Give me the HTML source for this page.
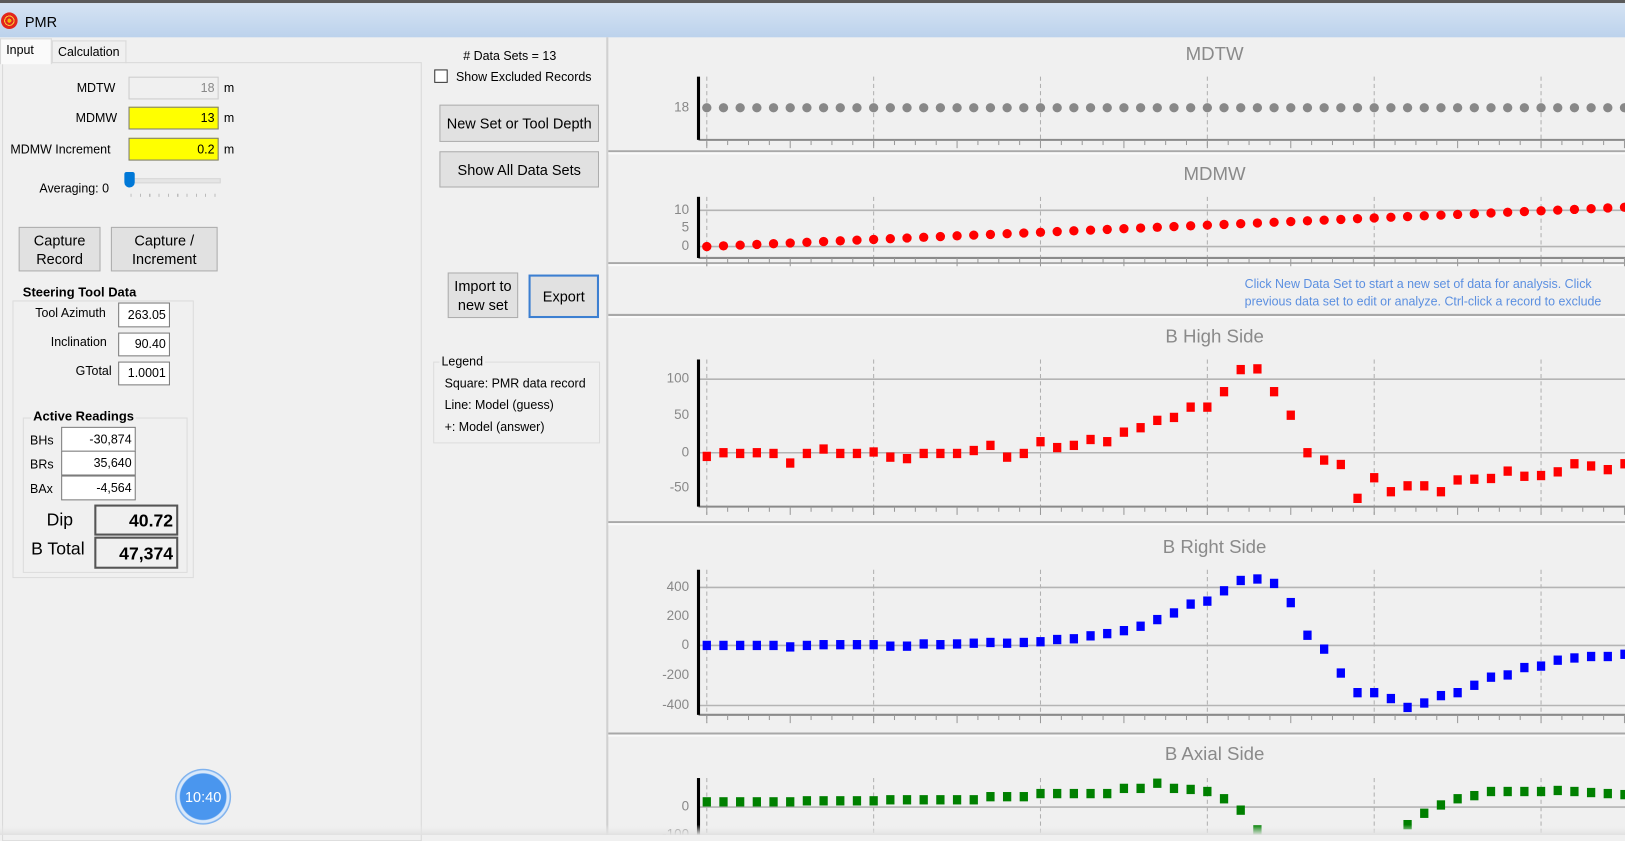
<!DOCTYPE html>
<html><head><meta charset="utf-8"><style>
html,body{margin:0;padding:0;width:1625px;height:835px;overflow:hidden;background:#f0f0f0;}
#w{position:absolute;left:0;top:0;width:1568px;height:806px;transform:scale(1.03635,1.036);transform-origin:0 0;font-family:"Liberation Sans",sans-serif;font-size:12px;color:#000;background:#f0f0f0;}
.a{position:absolute;white-space:nowrap;}
.box{position:absolute;background:#fff;border:1px solid #7a7a7a;box-sizing:border-box;text-align:right;padding-right:3px;}
.btn{position:absolute;background:#e1e1e1;border:1px solid #adadad;box-sizing:border-box;display:flex;align-items:center;justify-content:center;text-align:center;font-size:14px;line-height:18px;}
.grp{position:absolute;border:1px solid #dcdcdc;box-sizing:border-box;}
.gl{position:absolute;background:#f0f0f0;padding:0 2px;}
</style></head><body><div id="w">
<div class="a" style="left:0;top:0;width:1568px;height:3px;background:#5a5a5a"></div>
<div class="a" style="left:0;top:3px;width:1568px;height:33px;background:linear-gradient(#d5e3f3,#bcd2ec)"></div>
<div class="a" style="left:1px;top:12px;width:16px;height:16px;border-radius:50%;background:radial-gradient(circle,#f2b705 0 2px,#e3261b 2px 4px,#f7c43a 4px 5px,#e3261b 5px 8px)"></div>
<div class="a" style="left:24px;top:13px;font-size:14px">PMR</div>
<!-- tabs -->
<div class="a" style="left:2px;top:60px;width:403px;height:750px;border:1px solid #d9d9d9;background:#f0f0f0"></div>
<div class="a" style="left:0;top:37px;width:48px;height:24px;background:#fafafa;border:1px solid #d9d9d9;border-bottom:none"></div>
<div class="a" style="left:6px;top:41px;font-size:12px">Input</div>
<div class="a" style="left:50px;top:39px;width:70px;height:21px;border:1px solid #d9d9d9;border-bottom:none"></div>
<div class="a" style="left:56px;top:43px;font-size:12px">Calculation</div>
<div class="a" style="left:74px;top:78px">MDTW</div>
<div class="box" style="left:124px;top:74px;width:87px;height:22px;background:#f0f0f0;border-color:#ccc;color:#888;line-height:20px">18</div>
<div class="a" style="left:216px;top:78px">m</div>
<div class="a" style="left:73px;top:107px">MDMW</div>
<div class="box" style="left:124px;top:103px;width:87px;height:22px;background:#ffff00;line-height:20px">13</div>
<div class="a" style="left:216px;top:107px">m</div>
<div class="a" style="left:10px;top:137px">MDMW Increment</div>
<div class="box" style="left:124px;top:133px;width:87px;height:22px;background:#ffff00;line-height:20px">0.2</div>
<div class="a" style="left:216px;top:137px">m</div>
<div class="a" style="left:38px;top:175px">Averaging: 0</div>
<div class="a" style="left:125px;top:172px;width:86px;height:3px;background:#e5e5e5;border:1px solid #d6d6d6"></div>
<div class="a" style="left:120px;top:166px;width:10px;height:15px;background:#0078d7;border-radius:2px 2px 5px 5px"></div>
<div class="a" style="left:126px;top:187px;width:84px;height:3px;background:repeating-linear-gradient(90deg,#bbb 0 1px,transparent 1px 9px)"></div>
<div class="btn" style="left:18px;top:219px;width:79px;height:43px">Capture<br>Record</div>
<div class="btn" style="left:107px;top:219px;width:103px;height:43px">Capture /<br>Increment</div>
<div class="grp" style="left:12px;top:290px;width:175px;height:268px"></div>
<div class="gl" style="left:20px;top:275px;font-weight:bold;font-size:12.5px">Steering Tool Data</div>
<div class="a" style="left:34px;top:295px">Tool Azimuth</div>
<div class="box" style="left:114px;top:292px;width:50px;height:24px;line-height:22px">263.05</div>
<div class="a" style="left:49px;top:323px">Inclination</div>
<div class="box" style="left:114px;top:321px;width:50px;height:23px;line-height:21px">90.40</div>
<div class="a" style="left:73px;top:351px">GTotal</div>
<div class="box" style="left:114px;top:349px;width:50px;height:23px;line-height:21px">1.0001</div>
<div class="grp" style="left:22px;top:403px;width:159px;height:150px"></div>
<div class="gl" style="left:30px;top:395px;font-weight:bold;font-size:12.5px">Active Readings</div>
<div class="a" style="left:29px;top:418px">BHs</div>
<div class="box" style="left:59px;top:412px;width:72px;height:24px;line-height:22px">-30,874</div>
<div class="a" style="left:29px;top:441px">BRs</div>
<div class="box" style="left:59px;top:435px;width:72px;height:24px;line-height:22px">35,640</div>
<div class="a" style="left:29px;top:465px">BAx</div>
<div class="box" style="left:59px;top:459px;width:72px;height:24px;line-height:22px">-4,564</div>
<div class="a" style="left:45px;top:492px;font-size:17px">Dip</div>
<div class="box" style="left:91px;top:487px;width:81px;height:30px;line-height:28px;font-weight:bold;font-size:17px;background:#f0f0f0;border:2px solid #555">40.72</div>
<div class="a" style="left:30px;top:520px;font-size:17px">B Total</div>
<div class="box" style="left:91px;top:518px;width:81px;height:31px;line-height:29px;font-weight:bold;font-size:17px;background:#f0f0f0;border:2px solid #555">47,374</div>
<div class="a" style="left:169px;top:742px;width:54px;height:54px;border-radius:50%;background:radial-gradient(circle,#4a96ee 0 22px,#d8e8fa 23px 25px,#7fb2ee 26px);display:flex;align-items:center;justify-content:center;color:#fff;font-size:14px">10:40</div>
<!-- middle column -->
<div class="a" style="left:406px;top:0;width:1px"></div>
<div class="a" style="left:447px;top:47px">#&nbsp;Data Sets = 13</div>
<div class="a" style="left:419px;top:67px;width:13px;height:13px;background:#fff;border:1px solid #333;box-sizing:border-box"></div>
<div class="a" style="left:440px;top:67px">Show Excluded Records</div>
<div class="btn" style="left:424px;top:101px;width:154px;height:36px">New Set or Tool Depth</div>
<div class="btn" style="left:424px;top:146px;width:154px;height:35px">Show All Data Sets</div>
<div class="btn" style="left:432px;top:263px;width:68px;height:44px">Import to<br>new set</div>
<div class="btn" style="left:510px;top:265px;width:68px;height:42px;border:2px solid #3c7fd1">Export</div>
<div class="grp" style="left:418px;top:349px;width:161px;height:79px"></div>
<div class="gl" style="left:424px;top:342px">Legend</div>
<div class="a" style="left:429px;top:363px">Square: PMR data record</div>
<div class="a" style="left:429px;top:384px">Line: Model (guess)</div>
<div class="a" style="left:429px;top:405px">+: Model (answer)</div>
<div class="a" style="left:1201px;top:266px;color:#5b8fe0;font-size:12px;line-height:17px">Click New Data Set to start a new set of data for analysis. Click<br>previous data set to edit or analyze. Ctrl-click a record to exclude</div>
<svg class="a" style="left:0;top:0" width="1568" height="806" id="sv"></svg>
</div>
<script>
var sv=document.getElementById('sv'),h='';
function L(x1,y1,x2,y2,c,w,d){h+='<line x1="'+x1+'" y1="'+y1+'" x2="'+x2+'" y2="'+y2+'" stroke="'+c+'" stroke-width="'+(w||1)+'"'+(d?' stroke-dasharray="'+d+'"':'')+'/>';}
function T(x,y,s,sz,anch,c){h+='<text x="'+x+'" y="'+y+'" font-family="Liberation Sans,sans-serif" font-size="'+sz+'" fill="'+(c||'#888')+'" text-anchor="'+anch+'" dominant-baseline="middle">'+s+'</text>';}
L(586,36,586,806,'#d0d0d0',2);
var seps=[146,254,304,504,708];
seps.forEach(function(y){L(587,y,1568,y,'#a8a8a8',2);L(587,y+2,1568,y+2,'#fafafa',2);});
function X(i){return 682+16.1*i;}
function panel(title,ty,top,bot,ticks,grids){
 T(1172,ty,title,18,'middle','#8a8a8a');
 for(var k=0;k<6;k++){L(682+161*k,top,682+161*k,bot+(bot<806?8:0),'#b0b0b0',1,'4,3');}
 grids.forEach(function(g){L(674,g,1568,g,'#b4b4b4',1.5);});
 ticks.forEach(function(t){T(665,t[1],t[0],13,'end');});
 if(bot<806){L(674,bot,1568,bot,'#8a8a8a',2);
  for(var x=682;x<1568;x+=20.125){var m=Math.round((x-682)/20.125)%4==0;L(x,bot,x,bot+(m?8:5),'#999',1);}}
 L(674,top,674,Math.min(bot,806),'#000',3);
}
panel('MDTW',53,74,135,[['18',104]],[]);
panel('MDMW',169,190,249,[['10',203],['5',220],['0',238]],[203,238]);
panel('B High Side',326,347,489,[['100',366],['50',401],['0',437],['-50',471]],[366,437]);
panel('B Right Side',529,550,690,[['400',567],['200',595],['0',623],['-200',652],['-400',681]],[567,623,681]);
panel('B Axial Side',729,751,820,[['0',779],['-100',806]],[779]);
var i;
for(i=0;i<56;i++){h+='<circle cx="'+X(i)+'" cy="104" r="4.5" fill="#888"/>';}
for(i=0;i<56;i++){var v=0.2*i;h+='<circle cx="'+X(i)+'" cy="'+(238-3.45*v)+'" r="4.5" fill="#f00"/>';}
var bhs=[-5,0,-1,0,-1,-14,-1,5,-1,-1,1,-6,-8,-1,-1,-1,3,10,-6,-1,15,7,10,18,15,28,34,44,48,62,62,83,113,114,83,51,0,-10,-16,-62,-34,-53,-45,-45,-53,-37,-36,-35,-25,-32,-31,-26,-15,-18,-23,-15];
var brs=[0,0,0,0,0,-10,0,5,5,5,5,-5,-5,10,5,10,15,20,15,20,25,40,45,65,80,100,130,175,220,280,300,370,440,450,420,290,69,-25,-187,-320,-320,-360,-420,-390,-340,-320,-270,-215,-200,-150,-140,-100,-85,-75,-75,-60];
var bax=[5,5,5,5,5,5,6,6,6,6,6,7,7,7,7,7,7,10,10,10,13,13,13,13,13,18,18,23,18,17,15,8,-3,-22,-60,-60,-60,-60,-60,-60,-60,-40,-17,-6,2,8,11,15,15,15,15,16,15,14,13,12];
function sq(x,y,c){h+='<rect x="'+(x-4)+'" y="'+(y-4.5)+'" width="8" height="9" fill="'+c+'"/>';}
for(i=0;i<56;i++){sq(X(i),437-0.71*bhs[i],'#f00');sq(X(i),623-0.1425*brs[i],'#00f');if(bax[i]>-50)sq(X(i),779-bax[i],'#008000');}
h+='<rect x="0" y="796" width="1568" height="10" fill="url(#fd)"/>';
sv.innerHTML='<defs><linearGradient id="fd" x1="0" y1="0" x2="0" y2="1"><stop offset="0" stop-color="#f0f0f0" stop-opacity="0"/><stop offset="1" stop-color="#e0e0e0"/></linearGradient></defs>'+h;
</script>
</body></html>
